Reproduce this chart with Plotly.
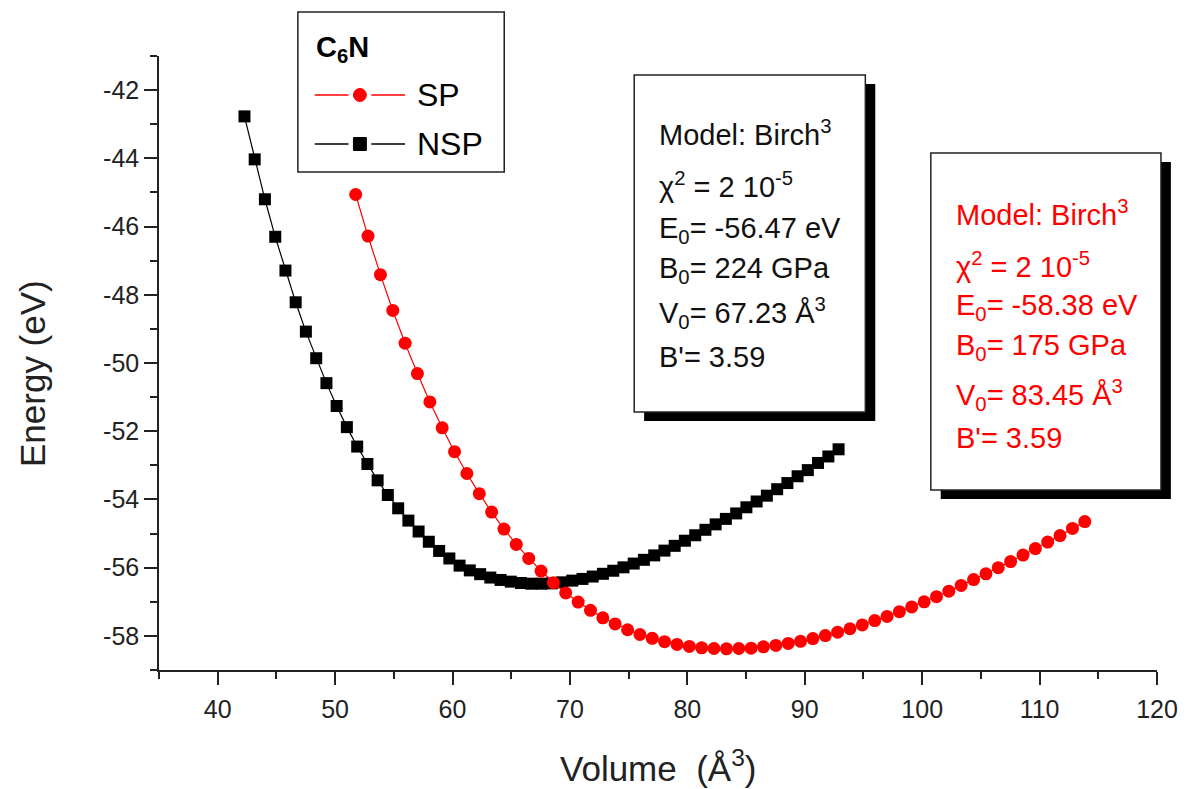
import plotly.graph_objects as go

# ---- data: C6N energy vs. volume, non-spin-polarised (NSP) and spin-polarised (SP)
nsp_volume = [42.28, 43.15, 44.02, 44.90, 45.77, 46.64, 47.51, 48.39, 49.26, 50.13,
              51.00, 51.88, 52.75, 53.62, 54.49, 55.37, 56.24, 57.11, 57.98, 58.86,
              59.73, 60.60, 61.47, 62.35, 63.22, 64.09, 64.96, 65.83, 66.71, 67.58,
              68.45, 69.32, 70.20, 71.07, 71.94, 72.81, 73.69, 74.56, 75.43, 76.30,
              77.18, 78.05, 78.92, 79.79, 80.67, 81.54, 82.41, 83.28, 84.16, 85.03,
              85.90, 86.77, 87.65, 88.52, 89.39, 90.26, 91.13, 92.01, 92.88]
nsp_energy = [-42.77, -44.03, -45.20, -46.30, -47.29, -48.22, -49.08, -49.86, -50.59, -51.26,
              -51.88, -52.45, -52.96, -53.44, -53.87, -54.26, -54.62, -54.94, -55.24, -55.51,
              -55.73, -55.94, -56.08, -56.19, -56.29, -56.36, -56.41, -56.45, -56.47, -56.47,
              -56.46, -56.43, -56.38, -56.33, -56.26, -56.18, -56.09, -55.99, -55.88, -55.77,
              -55.64, -55.50, -55.36, -55.21, -55.05, -54.89, -54.73, -54.57, -54.41, -54.23,
              -54.06, -53.89, -53.70, -53.52, -53.32, -53.14, -52.93, -52.74, -52.53]

sp_volume = [51.75, 52.80, 53.86, 54.91, 55.96, 57.01, 58.07, 59.12, 60.17, 61.22,
             62.28, 63.33, 64.38, 65.43, 66.49, 67.54, 68.59, 69.64, 70.70, 71.75,
             72.80, 73.85, 74.91, 75.96, 77.01, 78.06, 79.12, 80.17, 81.22, 82.27,
             83.33, 84.38, 85.43, 86.48, 87.54, 88.59, 89.64, 90.69, 91.75, 92.80,
             93.85, 94.90, 95.96, 97.01, 98.06, 99.11, 100.17, 101.22, 102.27, 103.32,
             104.38, 105.43, 106.48, 107.53, 108.59, 109.64, 110.69, 111.74, 112.80, 113.85]
sp_energy = [-45.06, -46.28, -47.41, -48.46, -49.42, -50.31, -51.14, -51.90, -52.60, -53.24,
             -53.83, -54.37, -54.87, -55.32, -55.73, -56.10, -56.44, -56.74, -57.01, -57.25,
             -57.47, -57.65, -57.82, -57.96, -58.07, -58.17, -58.25, -58.31, -58.35, -58.37,
             -58.38, -58.37, -58.36, -58.32, -58.28, -58.22, -58.16, -58.08, -57.99, -57.89,
             -57.79, -57.68, -57.55, -57.43, -57.29, -57.15, -57.00, -56.85, -56.69, -56.52,
             -56.35, -56.18, -56.00, -55.82, -55.63, -55.44, -55.25, -55.06, -54.85, -54.65]

x_ticks = [40, 50, 60, 70, 80, 90, 100, 110, 120]
x_tick_labels = ["40", "50", "60", "70", "80", "90", "100", "110", "120"]
y_ticks = [-42, -44, -46, -48, -50, -52, -54, -56, -58]
y_tick_labels = ["-42", "-44", "-46", "-48", "-50", "-52", "-54", "-56", "-58"]

x_title = "Volume\u00a0\u00a0(Å<sup>3</sup>)"
y_title = "Energy (eV)"
legend_title = "<b>C<sub>6</sub>N</b>"
series_names = ["SP", "NSP"]

nsp_fit_lines = ["Model: Birch<sup>3</sup>", "χ<sup>2</sup> = 2 10<sup>-5</sup>",
                 "E<sub>0</sub>= -56.47 eV", "B<sub>0</sub>= 224 GPa",
                 "V<sub>0</sub>= 67.23 Å<sup>3</sup>", "B'= 3.59"]
sp_fit_lines = ["Model: Birch<sup>3</sup>", "χ<sup>2</sup> = 2 10<sup>-5</sup>",
                "E<sub>0</sub>= -58.38 eV", "B<sub>0</sub>= 175 GPa",
                "V<sub>0</sub>= 83.45 Å<sup>3</sup>", "B'= 3.59"]

# ---- page geometry (pixels) and helpers to place decorations in paper units
W, H = 1190, 789
ML, MR, MT, MB = 159, 25, 56, 119
PW, PH = W - ML - MR, H - MT - MB
FONT = "Arial, Liberation Sans, sans-serif"
RED = "#ff0000"
INK = "#222"


def px(x):
    return (x - ML) / PW


def py(y):
    return (H - MB - y) / PH


fig = go.Figure()

fig.add_trace(go.Scatter(
    x=nsp_volume, y=nsp_energy, mode="lines+markers", name=series_names[1],
    line=dict(color="black", width=1.2),
    marker=dict(symbol="square", size=12, color="black"),
    showlegend=False,
))
fig.add_trace(go.Scatter(
    x=sp_volume, y=sp_energy, mode="lines+markers", name=series_names[0],
    line=dict(color=RED, width=1.2),
    marker=dict(symbol="circle", size=13, color=RED),
    showlegend=False,
))

shapes = []
annotations = []


def text_box(x0, y0, x1, y1, lines, line_y, color):
    # drop shadow then framed white box
    shapes.append(dict(type="rect", xref="paper", yref="paper",
                       x0=px(x0 + 10), x1=px(x1 + 10), y0=py(y1 + 9), y1=py(y0 + 9),
                       fillcolor="black", line=dict(width=0), layer="above"))
    shapes.append(dict(type="rect", xref="paper", yref="paper",
                       x0=px(x0), x1=px(x1), y0=py(y1), y1=py(y0),
                       fillcolor="white", line=dict(color=INK, width=1.5), layer="above"))
    for txt, yy in zip(lines, line_y):
        annotations.append(dict(text=txt, xref="paper", yref="paper",
                                x=px(x0 + 23), y=py(yy), xanchor="left", yanchor="middle",
                                showarrow=False, font=dict(family=FONT, size=29, color=color)))


text_box(638, 75, 871, 412, nsp_fit_lines, [133, 185, 230, 270, 313, 357], "#111")
text_box(937, 153, 1169, 490, sp_fit_lines, [213, 265, 307, 347, 395, 438], RED)

# legend frame with title and line/marker glyphs
shapes.append(dict(type="rect", xref="paper", yref="paper",
                   x0=px(299), x1=px(507), y0=py(172), y1=py(12),
                   fillcolor="white", line=dict(color=INK, width=1.5), layer="above"))
annotations.append(dict(text=legend_title, xref="paper", yref="paper", x=px(315), y=py(49),
                        xanchor="left", yanchor="middle", showarrow=False,
                        font=dict(family=FONT, size=29, color="black")))
for name, yy, col, kind in [(series_names[0], 95, RED, "circle"),
                            (series_names[1], 144, "black", "rect")]:
    for a, b in [(316, 350), (373, 407)]:
        shapes.append(dict(type="line", xref="paper", yref="paper",
                           x0=px(a), x1=px(b), y0=py(yy), y1=py(yy),
                           line=dict(color=col, width=1.5), layer="above"))
    shapes.append(dict(type=kind, xref="paper", yref="paper",
                       x0=px(355), x1=px(368), y0=py(yy + 6.5), y1=py(yy - 6.5),
                       fillcolor=col, line=dict(color=col, width=1), layer="above"))
    annotations.append(dict(text=name, xref="paper", yref="paper", x=px(417), y=py(yy),
                            xanchor="left", yanchor="middle", showarrow=False,
                            font=dict(family=FONT, size=32, color="black")))

# axis titles
annotations.append(dict(text=x_title, xref="paper", yref="paper", x=px(662), y=py(766),
                        xanchor="center", yanchor="middle", showarrow=False,
                        font=dict(family=FONT, size=35, color=INK)))
annotations.append(dict(text=y_title, xref="paper", yref="paper", x=px(31), y=py(374),
                        xanchor="center", yanchor="middle", textangle=-90, showarrow=False,
                        font=dict(family=FONT, size=35, color=INK)))

fig.update_layout(
    width=W, height=H, autosize=False,
    margin=dict(l=ML, r=MR, t=MT, b=MB),
    paper_bgcolor="white", plot_bgcolor="white",
    font=dict(family=FONT, color=INK),
    shapes=shapes, annotations=annotations,
)

fig.update_xaxes(
    range=[35, 120], showgrid=False, zeroline=False,
    showline=True, linecolor=INK, linewidth=1.5,
    ticks="outside", ticklen=13, tickwidth=1.5, tickcolor=INK,
    tickvals=x_ticks, ticktext=x_tick_labels, ticklabelstandoff=3,
    tickfont=dict(family=FONT, size=25, color=INK),
    minor=dict(tickmode="linear", tick0=35, dtick=10, ticks="outside", ticklen=7,
               tickwidth=1.5, tickcolor=INK, showgrid=False),
)
fig.update_yaxes(
    range=[-59, -41], showgrid=False, zeroline=False,
    showline=True, linecolor=INK, linewidth=1.5,
    ticks="outside", ticklen=13, tickwidth=1.5, tickcolor=INK,
    tickvals=y_ticks, ticktext=y_tick_labels, ticklabelstandoff=0,
    tickfont=dict(family=FONT, size=25, color=INK),
    minor=dict(tickmode="linear", tick0=-59, dtick=2, ticks="outside", ticklen=7,
               tickwidth=1.5, tickcolor=INK, showgrid=False),
)

fig.write_html("out.html")
